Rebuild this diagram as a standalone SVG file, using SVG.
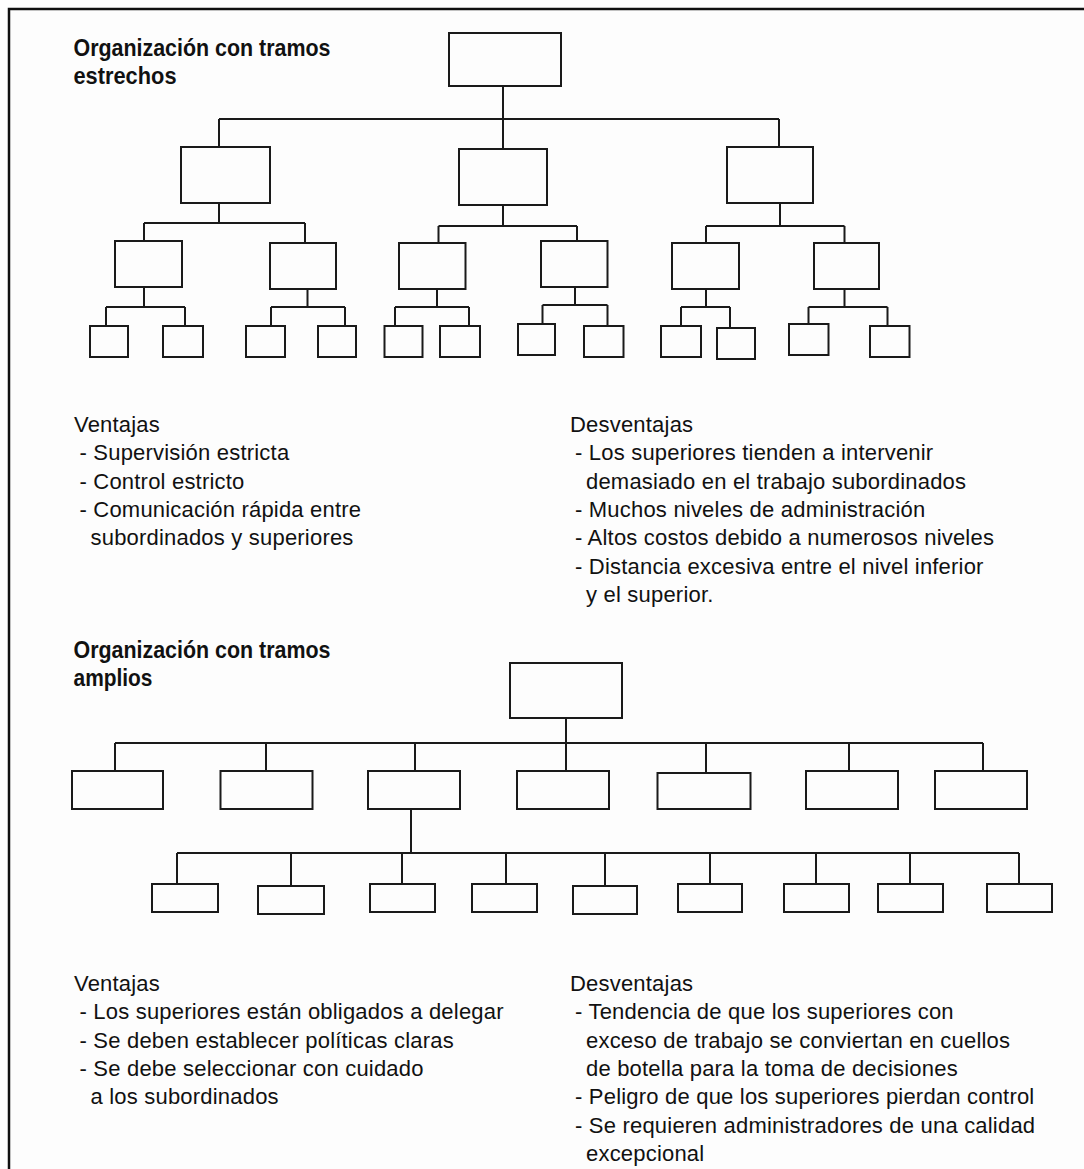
<svg xmlns="http://www.w3.org/2000/svg" width="1084" height="1169" viewBox="0 0 1084 1169">
  <style>
    .box { fill: none; stroke: #1a1a1a; stroke-width: 2; }
    .wire { fill: none; stroke: #1a1a1a; stroke-width: 2; }
    .frame { fill: none; stroke: #111; stroke-width: 2.5; }
    .title { font-family: "Liberation Sans", Arial, sans-serif; font-weight: bold; font-size: 24px; fill: #111; }
    .body { font-family: "Liberation Sans", Arial, sans-serif; font-size: 22px; letter-spacing: 0.2px; fill: #111; }
  </style>
  <rect x="0" y="0" width="1084" height="1169" fill="#ffffff"/>
  <rect x="9" y="9" width="1075" height="1160" fill="#fdfdfd"/>
  <path class="frame" d="M9,1169 V9 H1084"/>

  <!-- Narrow-span organisation -->
  <g id="title-narrow">
    <text class="title" x="73.5" y="56" textLength="257" lengthAdjust="spacingAndGlyphs">Organización con tramos</text>
    <text class="title" x="73.5" y="84" textLength="103" lengthAdjust="spacingAndGlyphs">estrechos</text>
  </g>

  <g id="connectors-narrow">
    <!-- root to level 1 -->
    <path class="wire" d="M503,86 V119 M219,119 H779 M219,119 V147 M503,119 V149 M779,119 V147"/>
    <!-- left branch -->
    <path class="wire" d="M219,203 V223 M144,223 H305 M144,223 V241 M305,223 V243"/>
    <path class="wire" d="M144,287 V307 M106,307 H185 M106,307 V326 M185,307 V326"/>
    <path class="wire" d="M307.5,289 V307 M271,307 H345 M271,307 V326 M345,307 V326"/>
    <!-- middle branch -->
    <path class="wire" d="M503,205 V226 M438.5,226 H577 M438.5,226 V243 M577,226 V241"/>
    <path class="wire" d="M437,289 V307 M395,307 H469 M395,307 V326 M469,307 V326"/>
    <path class="wire" d="M575,287 V305 M542.5,305 H607.5 M542.5,305 V324 M607.5,305 V326"/>
    <!-- right branch -->
    <path class="wire" d="M780,203 V226 M706,226 H844.5 M706,226 V243 M844.5,226 V243"/>
    <path class="wire" d="M706,289 V307 M681,307 H730 M681,307 V326 M730,307 V328"/>
    <path class="wire" d="M844.5,289 V307 M808.5,307 H887.5 M808.5,307 V324 M887.5,307 V326"/>
  </g>

  <g id="n-root"><rect class="box" x="449" y="33" width="112" height="53"/></g>
  <g id="n-a"><rect class="box" x="181" y="147" width="89" height="56"/></g>
  <g id="n-b"><rect class="box" x="459" y="149" width="88" height="56"/></g>
  <g id="n-c"><rect class="box" x="727" y="147" width="86" height="56"/></g>
  <g id="n-a1"><rect class="box" x="115" y="241" width="67" height="46"/></g>
  <g id="n-a2"><rect class="box" x="270" y="243" width="66" height="46"/></g>
  <g id="n-b1"><rect class="box" x="399" y="243" width="66.5" height="46"/></g>
  <g id="n-b2"><rect class="box" x="541" y="241" width="66.5" height="46"/></g>
  <g id="n-c1"><rect class="box" x="672" y="243" width="67" height="46"/></g>
  <g id="n-c2"><rect class="box" x="814" y="243" width="65" height="46"/></g>
  <g id="n-a1a"><rect class="box" x="90" y="326" width="38" height="31"/></g>
  <g id="n-a1b"><rect class="box" x="163" y="326" width="40" height="31"/></g>
  <g id="n-a2a"><rect class="box" x="246" y="326" width="39" height="31"/></g>
  <g id="n-a2b"><rect class="box" x="318" y="326" width="38" height="31"/></g>
  <g id="n-b1a"><rect class="box" x="384.5" y="326" width="38" height="31"/></g>
  <g id="n-b1b"><rect class="box" x="440" y="326" width="40" height="31"/></g>
  <g id="n-b2a"><rect class="box" x="518" y="324" width="37" height="31"/></g>
  <g id="n-b2b"><rect class="box" x="584" y="326" width="39.5" height="31"/></g>
  <g id="n-c1a"><rect class="box" x="661" y="326" width="40" height="31"/></g>
  <g id="n-c1b"><rect class="box" x="717" y="328" width="38" height="31"/></g>
  <g id="n-c2a"><rect class="box" x="789" y="324" width="39.5" height="31"/></g>
  <g id="n-c2b"><rect class="box" x="870" y="326" width="39.5" height="31"/></g>

  <g id="pros-narrow">
    <text class="body" x="74" y="432">Ventajas</text>
    <text class="body" x="79.5" y="460">- Supervisión estricta</text>
    <text class="body" x="79.5" y="488.5">- Control estricto</text>
    <text class="body" x="79.5" y="517">- Comunicación rápida entre</text>
    <text class="body" x="90.5" y="545">subordinados y superiores</text>
  </g>
  <g id="cons-narrow">
    <text class="body" x="570" y="432">Desventajas</text>
    <text class="body" x="575" y="460">- Los superiores tienden a intervenir</text>
    <text class="body" x="586" y="488.5">demasiado en el trabajo subordinados</text>
    <text class="body" x="575" y="517">- Muchos niveles de administración</text>
    <text class="body" x="575" y="545">- Altos costos debido a numerosos niveles</text>
    <text class="body" x="575" y="573.5">- Distancia excesiva entre el nivel inferior</text>
    <text class="body" x="586" y="602">y el superior.</text>
  </g>

  <!-- Wide-span organisation -->
  <g id="title-wide">
    <text class="title" x="73.5" y="658" textLength="257" lengthAdjust="spacingAndGlyphs">Organización con tramos</text>
    <text class="title" x="73.5" y="686" textLength="79" lengthAdjust="spacingAndGlyphs">amplios</text>
  </g>

  <g id="connectors-wide">
    <path class="wire" d="M566,718 V743 M115,743 H983 M115,743 V771 M266,743 V771 M415,743 V771 M566,743 V771 M706,743 V773 M849,743 V771 M983,743 V771"/>
    <path class="wire" d="M411,809 V853 M177,853 H1019 M177,853 V884 M291,853 V886 M402,853 V884 M506,853 V884 M605,853 V886 M710,853 V884 M816,853 V884 M910,853 V884 M1019,853 V884"/>
  </g>

  <g id="w-root"><rect class="box" x="510" y="663" width="112" height="55"/></g>
  <g id="w-1"><rect class="box" x="72" y="771" width="91" height="38"/></g>
  <g id="w-2"><rect class="box" x="220.5" y="771" width="92" height="38"/></g>
  <g id="w-3"><rect class="box" x="368" y="771" width="92" height="38"/></g>
  <g id="w-4"><rect class="box" x="517" y="771" width="92" height="38"/></g>
  <g id="w-5"><rect class="box" x="657.5" y="773" width="93" height="36"/></g>
  <g id="w-6"><rect class="box" x="806" y="771" width="92" height="38"/></g>
  <g id="w-7"><rect class="box" x="935" y="771" width="92" height="38"/></g>
  <g id="w-3-1"><rect class="box" x="152" y="884" width="66" height="28"/></g>
  <g id="w-3-2"><rect class="box" x="258" y="886" width="66" height="28"/></g>
  <g id="w-3-3"><rect class="box" x="370" y="884" width="65" height="28"/></g>
  <g id="w-3-4"><rect class="box" x="472" y="884" width="65" height="28"/></g>
  <g id="w-3-5"><rect class="box" x="573" y="886" width="64" height="28"/></g>
  <g id="w-3-6"><rect class="box" x="678" y="884" width="64" height="28"/></g>
  <g id="w-3-7"><rect class="box" x="784" y="884" width="65" height="28"/></g>
  <g id="w-3-8"><rect class="box" x="878" y="884" width="65" height="28"/></g>
  <g id="w-3-9"><rect class="box" x="987" y="884" width="65" height="28"/></g>

  <g id="pros-wide">
    <text class="body" x="74" y="991">Ventajas</text>
    <text class="body" x="79.5" y="1019">- Los superiores están obligados a delegar</text>
    <text class="body" x="79.5" y="1047.5">- Se deben establecer políticas claras</text>
    <text class="body" x="79.5" y="1076">- Se debe seleccionar con cuidado</text>
    <text class="body" x="90.5" y="1104">a los subordinados</text>
  </g>
  <g id="cons-wide">
    <text class="body" x="570" y="991">Desventajas</text>
    <text class="body" x="575" y="1019">- Tendencia de que los superiores con</text>
    <text class="body" x="586" y="1047.5">exceso de trabajo se conviertan en cuellos</text>
    <text class="body" x="586" y="1076">de botella para la toma de decisiones</text>
    <text class="body" x="575" y="1104">- Peligro de que los superiores pierdan control</text>
    <text class="body" x="575" y="1132.5">- Se requieren administradores de una calidad</text>
    <text class="body" x="586" y="1160.5">excepcional</text>
  </g>
</svg>
